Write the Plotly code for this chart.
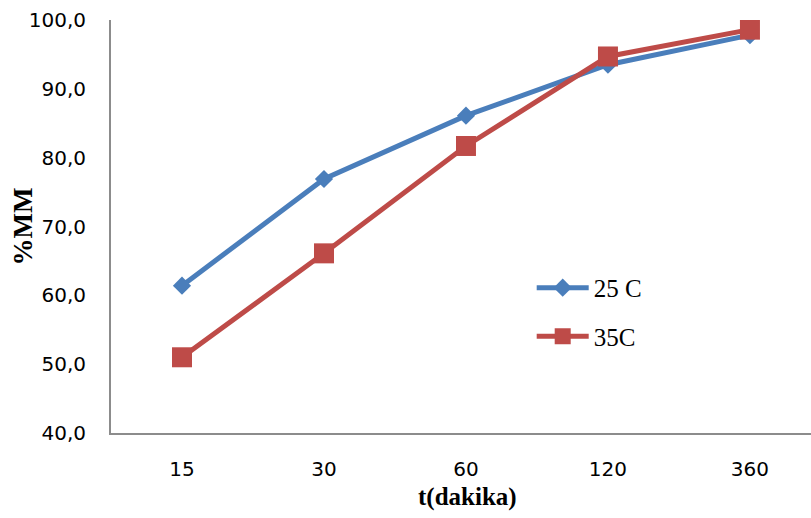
import plotly.graph_objects as go

# Sampling times (minutes) and measured %MM at two temperatures
times = ["15", "30", "60", "120", "360"]
mm_25c = [61.4, 76.9, 86.1, 93.5, 97.8]
mm_35c = [51.0, 66.1, 81.7, 94.7, 98.6]

series_names = ["25 C", "35C"]
y_ticks = [40, 50, 60, 70, 80, 90, 100]

fig = go.Figure()
fig.add_trace(go.Scatter(
    x=times, y=mm_25c, name=series_names[0], mode="lines+markers",
    line=dict(color="#4A7EBB", width=5),
    marker=dict(symbol="diamond", size=14, color="#4A7EBB"),
    legendgroup="a",
))
fig.add_trace(go.Scatter(
    x=times, y=mm_35c, name=series_names[1], mode="lines+markers",
    line=dict(color="#BE4B48", width=5),
    marker=dict(symbol="square", size=20, color="#BE4B48"),
    legendgroup="b",
))

fig.update_layout(
    width=811, height=518,
    margin=dict(l=111, r=0, t=20, b=85),
    paper_bgcolor="white", plot_bgcolor="white",
    separators=",.",
    showlegend=True,
    legend=dict(
        x=0.601, y=0.407, xanchor="left", yanchor="top",
        font=dict(family="Liberation Serif", size=25, color="black"),
        bgcolor="rgba(0,0,0,0)", tracegroupgap=13, traceorder="grouped",
        itemwidth=52,
    ),
    annotations=[
        dict(text="<b>%MM</b>", xref="paper", yref="paper",
             x=-0.127, y=0.5, textangle=-90, showarrow=False,
             xanchor="center", yanchor="middle",
             font=dict(family="Liberation Serif", size=27, color="black")),
        dict(text="<b>t(dakika)</b>", xref="paper", yref="paper",
             x=0.5086, y=-0.155, showarrow=False,
             xanchor="center", yanchor="middle",
             font=dict(family="Liberation Serif", size=25, color="black")),
    ],
)

fig.update_xaxes(
    type="category", range=[-0.5, 4.43],
    showline=True, linecolor="#8C8C8C", linewidth=2,
    showgrid=False, zeroline=False, ticks="",
    tickfont=dict(family="DejaVu Sans", size=20, color="black"),
    ticklabelstandoff=17,
)
fig.update_yaxes(
    range=[40, 100], tickvals=y_ticks, tickformat=".1f",
    showline=True, linecolor="#8C8C8C", linewidth=2,
    showgrid=False, zeroline=False, ticks="",
    tickfont=dict(family="DejaVu Sans", size=20, color="black"),
    ticklabelstandoff=19,
)

fig.write_html("out.html")
